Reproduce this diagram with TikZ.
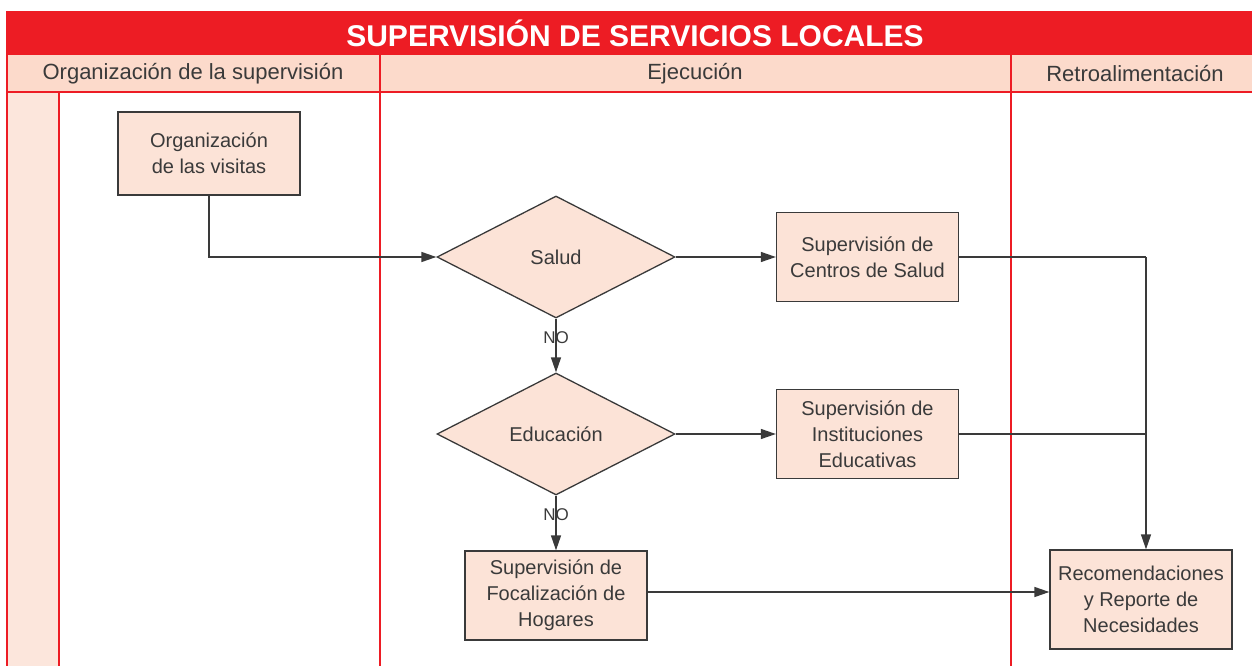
\documentclass[tikz,border=0pt]{standalone}
\usepackage{fontspec}
\setmainfont{Liberation Sans}
\usetikzlibrary{shapes.geometric,arrows.meta}
\definecolor{hred}{HTML}{ED1C24}
\definecolor{hdr}{HTML}{FCDACB}
\definecolor{strip}{HTML}{FCE6DC}
\definecolor{nfill}{HTML}{FCE3D7}
\definecolor{ink}{HTML}{3A3A3A}
\begin{document}
\begin{tikzpicture}[x=1pt,y=-1pt,
  box/.style={draw=ink, line width=1.3pt, fill=nfill, minimum width=182pt, minimum height=89pt, align=center, inner sep=2pt, font=\fontsize{20}{26}\selectfont, text=ink},
  dec/.style={diamond, draw=ink, line width=1.3pt, fill=nfill, aspect=1.95, minimum width=238pt, minimum height=122pt, inner sep=0pt, font=\fontsize{20}{26}\selectfont, text=ink},
  lane/.style={font=\fontsize{22}{26}\selectfont, text=ink},
  frame/.style={draw=hred, line width=2pt},
  conn/.style={draw=ink, line width=1.3pt},
  arr/.style={conn, -{Triangle[length=15pt,width=10pt]}},
  nolab/.style={font=\fontsize{17}{20}\selectfont, text=ink, inner sep=0pt}]
\useasboundingbox (0,0) rectangle (1252,666);
\clip (0,0) rectangle (1252,666);
% frame
\fill[hred] (7,11) rectangle (1260,55);
\fill[hdr] (7,55) rectangle (1260,92);
\fill[strip] (7,92) rectangle (59,670);
\draw[frame] (7,11) -- (7,670);
\draw[frame] (7,92) -- (1260,92);
\draw[frame] (380,55) -- (380,670);
\draw[frame] (1011,55) -- (1011,670);
\draw[frame] (59,92) -- (59,670);
\node[text=white, font=\fontsize{30}{34}\selectfont\bfseries] (title) at (635,33) {SUPERVISIÓN DE SERVICIOS LOCALES};
\node[lane] (l1) at (193,74) {Organización de la supervisión};
\node[lane] (l2) at (695,74) {Ejecución};
\node[lane] (l3) at (1135,74) {Retroalimentación};
% nodes
\node[box, minimum height=83pt] (org) at (209,153.5) {Organización\\de las visitas};
\node[dec] (salud) at (556,257) {Salud};
\node[box] (centros) at (867.5,257) {Supervisión de\\Centros de Salud};
\node[dec] (edu) at (556,434) {Educación};
\node[box] (inst) at (867.5,434) {Supervisión de\\Instituciones\\Educativas};
\node[box] (focal) at (556,595.5) {Supervisión de\\Focalización de\\Hogares};
\node[box, minimum height=99pt] (recom) at (1141,599.5) {Recomendaciones\\y Reporte de\\Necesidades};
\coordinate (j1) at (1146,257);
\coordinate (j2) at (1146,434);
% connectors
\draw[arr] (org.south) |- (salud.west);
\draw[arr] (salud.east) -- (centros.west);
\draw[arr] (edu.east) -- (inst.west);
\draw[conn] (centros.east) -- (j1);
\draw[arr] (j1) -- (j1 |- recom.north);
\draw[conn] (inst.east) -- (j2);
\draw[arr] (salud.south) -- node[nolab, pos=0.35] (no1) {NO} (edu.north);
\draw[arr] (edu.south) -- node[nolab, pos=0.35] (no2) {NO} (focal.north);
\draw[arr] ([yshift=3.5pt]focal.east) -- ([yshift=7.5pt]recom.west);
\end{tikzpicture}
\end{document}
